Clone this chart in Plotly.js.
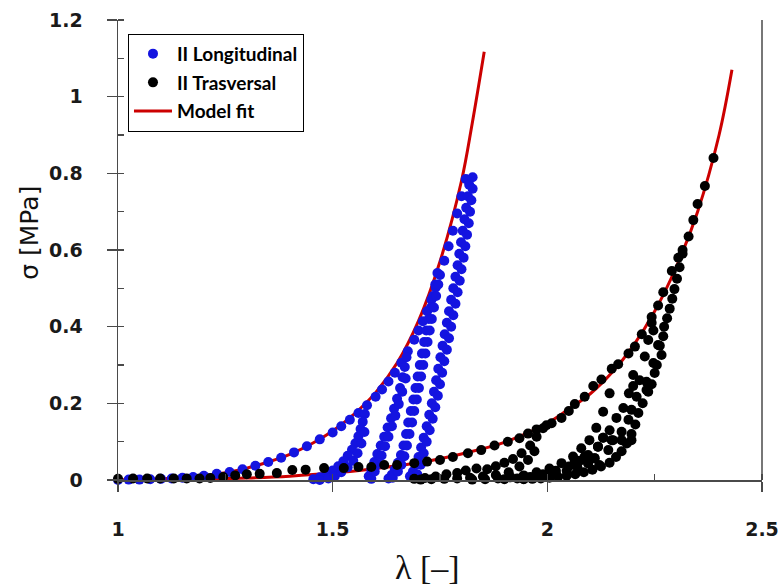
<!DOCTYPE html>
<html>
<head>
<meta charset="utf-8">
<script src="https://cdn.plot.ly/plotly-3.0.1.min.js"></script>
<style>html,body{margin:0;padding:0;background:#fff;}#chart{width:780px;height:586px;}</style>
</head>
<body>
<div id="chart"></div>
<script>
// ---- Model fit curves ----
const fitLongX = [1.0,1.05,1.1,1.15,1.2,1.25,1.3,1.35,1.4,1.45,1.5,1.55,1.6,1.65,1.7,1.75,1.8,1.825,1.853];
const fitLongY = [0,0.001,0.003,0.006,0.011,0.019,0.031,0.047,0.067,0.094,0.128,0.172,0.228,0.305,0.415,0.57,0.78,0.93,1.117];
const fitTransX = [1.0,1.1,1.2,1.3,1.4,1.5,1.6,1.7,1.8,1.9,2.0,2.05,2.1,2.15,2.2,2.25,2.3,2.35,2.4,2.43];
const fitTransY = [0,0.001,0.002,0.005,0.01,0.018,0.03,0.045,0.068,0.098,0.148,0.185,0.225,0.28,0.35,0.44,0.555,0.70,0.9,1.07];

// ---- II Longitudinal (loading envelope + unloading / reloading branches) ----
const longLoadX = [1.0,1.025,1.05,1.075,1.1,1.125,1.15,1.175,1.2,1.23,1.26,1.29,1.32,1.35,1.38,1.41,1.44,1.47,1.5,1.52,1.54,1.56,1.58,1.6,1.615,1.63,1.645,1.66,1.675,1.69,1.70,1.71,1.72,1.73,1.74,1.75,1.76,1.77,1.78,1.79,1.80,1.81];
const longLoadY = [0,0.001,0.001,0.002,0.003,0.004,0.006,0.008,0.011,0.016,0.021,0.028,0.037,0.047,0.058,0.072,0.088,0.106,0.124,0.14,0.157,0.175,0.195,0.217,0.236,0.257,0.28,0.306,0.336,0.366,0.39,0.414,0.44,0.47,0.502,0.535,0.572,0.61,0.65,0.695,0.74,0.785];
const longS1X = [1.575,1.57,1.565,1.56,1.553,1.545,1.535,1.525,1.513,1.50,1.485,1.47,1.455];
const longS1Y = [0.172,0.152,0.133,0.114,0.096,0.079,0.063,0.049,0.036,0.025,0.015,0.007,0.002];
const longR1X = [1.47,1.49,1.505,1.52,1.535,1.548,1.558,1.567,1.574];
const longR1Y = [0.0,0.004,0.01,0.02,0.033,0.05,0.07,0.095,0.125];
const longS2X = [1.672,1.668,1.663,1.657,1.65,1.643,1.636,1.628,1.62,1.612,1.604,1.597,1.59,1.584];
const longS2Y = [0.32,0.295,0.268,0.24,0.212,0.186,0.161,0.137,0.113,0.09,0.068,0.047,0.027,0.01];
const longR2X = [1.59,1.598,1.606,1.614,1.622,1.63,1.638,1.646,1.654,1.662,1.67];
const longR2Y = [0.003,0.022,0.042,0.064,0.088,0.113,0.14,0.168,0.198,0.23,0.265];
const longS3X = [1.744,1.739,1.734,1.729,1.724,1.718,1.713,1.708,1.703,1.698,1.693,1.688,1.682,1.676,1.671,1.665,1.659,1.652,1.645,1.638,1.63];
const longS3Y = [0.54,0.51,0.48,0.45,0.42,0.39,0.36,0.33,0.30,0.27,0.24,0.21,0.18,0.15,0.12,0.09,0.065,0.045,0.028,0.014,0.004];
const longR3X = [1.64,1.652,1.66,1.667,1.673,1.679,1.685,1.69,1.696,1.701,1.706,1.711,1.716,1.721,1.726,1.731,1.736,1.741,1.746];
const longR3Y = [0.006,0.022,0.04,0.062,0.09,0.12,0.15,0.18,0.21,0.24,0.27,0.30,0.33,0.36,0.39,0.42,0.45,0.48,0.51];
const longS4X = [1.818,1.815,1.811,1.807,1.803,1.799,1.795,1.791,1.786,1.781,1.776,1.771,1.766,1.761,1.756,1.751,1.746,1.741,1.736,1.731,1.725,1.719,1.712,1.706,1.70,1.694,1.687,1.68];
const longS4Y = [0.77,0.74,0.71,0.68,0.65,0.62,0.59,0.56,0.53,0.50,0.47,0.44,0.41,0.38,0.35,0.32,0.29,0.26,0.23,0.20,0.17,0.14,0.11,0.085,0.06,0.04,0.022,0.01];
const longR4X = [1.697,1.705,1.712,1.719,1.726,1.733,1.739,1.745,1.75,1.755,1.76,1.766,1.771,1.776,1.781,1.786,1.791,1.796,1.80,1.805,1.809,1.813,1.817,1.82,1.823,1.826,1.826];
const longR4Y = [0.015,0.04,0.07,0.1,0.13,0.16,0.19,0.22,0.25,0.28,0.31,0.34,0.37,0.40,0.43,0.46,0.49,0.52,0.55,0.58,0.61,0.64,0.67,0.70,0.73,0.76,0.79];

// ---- II Trasversal ----
const transLoadX = [1.0,1.035,1.068,1.098,1.13,1.16,1.19,1.215,1.245,1.273,1.30,1.33,1.37,1.406,1.437,1.48,1.526,1.56,1.59,1.62,1.65,1.69,1.72,1.75,1.78,1.815,1.846,1.877,1.908,1.935,1.955,1.975,1.998,2.01,2.033,2.05,2.064,2.087,2.107,2.126,2.15,2.165,2.189,2.204,2.22,2.243,2.258,2.27,2.29,2.305,2.315,2.329,2.34,2.35,2.367,2.387];
const transLoadY = [0.003,0.004,0.004,0.004,0.004,0.004,0.004,0.005,0.008,0.012,0.015,0.016,0.018,0.026,0.027,0.031,0.031,0.034,0.034,0.039,0.039,0.044,0.048,0.052,0.06,0.07,0.078,0.09,0.10,0.109,0.121,0.132,0.143,0.148,0.162,0.18,0.198,0.217,0.245,0.262,0.29,0.302,0.33,0.348,0.38,0.425,0.455,0.49,0.545,0.58,0.60,0.635,0.678,0.72,0.767,0.84];
const transU1X = [1.99,1.975,1.96,1.94,1.92,1.90,1.88,1.86,1.835,1.81,1.79,1.765,1.74,1.715,1.69];
const transU1Y = [0.135,0.113,0.09,0.07,0.055,0.045,0.036,0.028,0.03,0.025,0.018,0.015,0.009,0.005,0.003];
const transV1X = [1.705,1.73,1.76,1.79,1.82,1.85,1.88,1.91,1.935,1.955,1.97];
const transV1Y = [0.001,0.002,0.003,0.004,0.006,0.009,0.013,0.02,0.035,0.052,0.075];
const transU2X = [2.145,2.13,2.114,2.098,2.079,2.06,2.033,2.005,1.975,1.945,1.915,1.885,1.855,1.825];
const transU2Y = [0.226,0.178,0.136,0.104,0.083,0.061,0.044,0.03,0.02,0.012,0.007,0.004,0.002,0.001];
const transU3X = [2.2,2.19,2.177,2.161,2.145,2.13,2.118,2.095,2.075,2.05,2.02,1.99,1.96,1.93,1.9];
const transU3Y = [0.274,0.226,0.188,0.162,0.13,0.11,0.087,0.065,0.05,0.035,0.024,0.015,0.008,0.004,0.002];
const transU4X = [2.247,2.231,2.215,2.208,2.196,2.189,2.173,2.153,2.142,2.11,2.095,2.07,2.045,2.02,1.995,1.97,1.945];
const transU4Y = [0.305,0.256,0.26,0.217,0.183,0.157,0.126,0.104,0.078,0.057,0.044,0.033,0.024,0.016,0.01,0.006,0.003];
const transU5X = [2.315,2.308,2.302,2.296,2.291,2.285,2.279,2.272,2.27,2.262,2.266,2.255,2.25,2.243,2.235,2.222,2.212,2.205,2.196,2.185,2.173,2.16,2.145,2.125,2.105,2.085,2.065,2.045,2.025,2.005,1.985,1.965,1.945];
const transU5Y = [0.59,0.555,0.525,0.498,0.473,0.447,0.422,0.40,0.375,0.35,0.326,0.30,0.279,0.25,0.23,0.2,0.175,0.145,0.12,0.095,0.075,0.06,0.045,0.035,0.027,0.02,0.015,0.011,0.008,0.006,0.004,0.003,0.002];
const transExtraX = [2.227,2.235,2.258,2.247,2.2,2.231,2.243,2.196,2.173,2.13,2.15,2.118,2.087,2.11,2.064,2.095,2.121];
const transExtraY = [0.322,0.365,0.352,0.39,0.245,0.235,0.41,0.104,0.104,0.11,0.104,0.087,0.061,0.057,0.048,0.044,0.039];

const longX = [].concat(longLoadX, longS1X, longR1X, longS2X, longR2X, longS3X, longR3X, longS4X, longR4X);
const longY = [].concat(longLoadY, longS1Y, longR1Y, longS2Y, longR2Y, longS3Y, longR3Y, longS4Y, longR4Y);
const transX = [].concat(transLoadX, transU1X, transV1X, transU2X, transU3X, transU4X, transU5X, transExtraX);
const transY = [].concat(transLoadY, transU1Y, transV1Y, transU2Y, transU3Y, transU4Y, transU5Y, transExtraY);

const RED = '#cc0000';
const BLUE = '#1414e0';
const AXIS = '#4a4a4a';

const traces = [
  {x: fitLongX, y: fitLongY, mode: 'lines', name: 'Model fit', legendrank: 3, legendgroup: 'c',
   line: {color: RED, width: 3, shape: 'spline'}, cliponaxis: false},
  {x: fitTransX, y: fitTransY, mode: 'lines', name: 'Model fit', showlegend: false, legendgroup: 'c',
   line: {color: RED, width: 3, shape: 'spline'}, cliponaxis: false},
  {x: longX, y: longY, mode: 'markers', name: 'II Longitudinal', legendrank: 1, legendgroup: 'a',
   marker: {color: BLUE, size: 10}, cliponaxis: false},
  {x: transX, y: transY, mode: 'markers', name: 'II Trasversal', legendrank: 2, legendgroup: 'b',
   marker: {color: '#000000', size: 10}, cliponaxis: false}
];

const tickFont = {family: 'DejaVu Sans', size: 19, color: '#1a1a1a', weight: 'bold'};

const layout = {
  width: 780, height: 586,
  margin: {l: 118, r: 18, t: 20, b: 106},
  paper_bgcolor: '#ffffff', plot_bgcolor: '#ffffff',
  showlegend: true,
  legend: {
    x: 0.0155, y: 0.97, xanchor: 'left', yanchor: 'top',
    bgcolor: '#ffffff', bordercolor: '#000000', borderwidth: 1,
    font: {family: 'Lato', size: 19, color: '#000000', weight: 'bold'},
    traceorder: 'grouped', tracegroupgap: 1, itemwidth: 38
  },
  xaxis: {
    range: [1, 2.5], dtick: 0.5, tick0: 1,
    showgrid: false, zeroline: false,
    showline: true, linecolor: AXIS, linewidth: 1.5,
    ticks: 'outside', ticklen: 10, tickcolor: AXIS, tickwidth: 1.5,
    minor: {ticks: 'inside', dtick: 0.25, ticklen: 6, tickcolor: AXIS, tickwidth: 1.5, showgrid: false},
    tickfont: tickFont, ticklabelstandoff: 22
  },
  yaxis: {
    range: [0, 1.2], dtick: 0.2, tick0: 0,
    showgrid: false, zeroline: false,
    showline: true, linecolor: AXIS, linewidth: 1.5,
    ticks: 'outside', ticklen: 10, tickcolor: AXIS, tickwidth: 1.5,
    minor: {ticks: 'inside', dtick: 0.1, ticklen: 6, tickcolor: AXIS, tickwidth: 1.5, showgrid: false},
    tickfont: tickFont, ticklabelstandoff: 20
  },
  annotations: [
    {text: 'σ [MPa]', xref: 'paper', yref: 'paper', x: -0.137, y: 0.537, xanchor: 'center', yanchor: 'middle',
     textangle: -90, showarrow: false, font: {family: 'DejaVu Sans', size: 25, color: '#111'}},
    {text: 'λ [–]', xref: 'paper', yref: 'paper', x: 0.48, y: -0.19, xanchor: 'center', yanchor: 'middle',
     showarrow: false, font: {family: 'Liberation Serif', size: 34, color: '#111'}}
  ],
  shapes: [
    {type: 'line', xref: 'paper', yref: 'paper', x0: 1, x1: 1, y0: 0, y1: 1,
     line: {color: AXIS, width: 1.5}}
  ]
};

Plotly.newPlot('chart', traces, layout, {staticPlot: true, displayModeBar: false});
</script>
</body>
</html>
